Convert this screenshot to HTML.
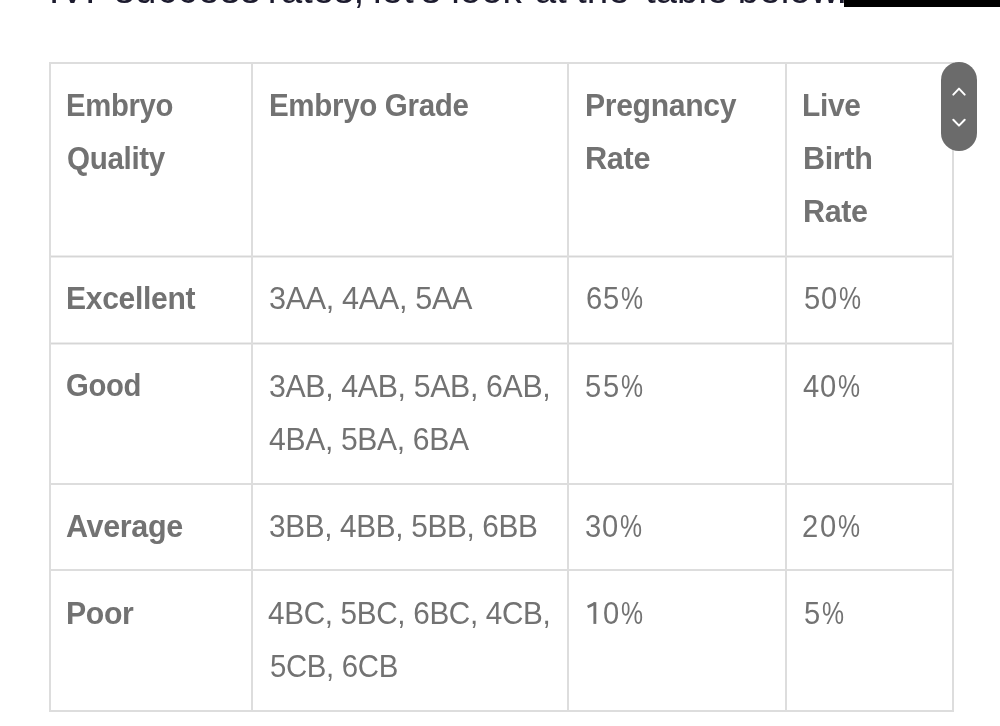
<!DOCTYPE html>
<html><head><meta charset="utf-8">
<style>
html,body{margin:0;padding:0;background:#fff;}
body{width:1000px;height:726px;position:relative;overflow:hidden;filter:blur(0.4px);font-family:"Liberation Sans",sans-serif;}
.h{position:absolute;background:#dddddd;height:2px;left:49px;width:905px;}
.v{position:absolute;background:#dddddd;width:2px;top:62px;height:650px;}
.t{position:absolute;color:#727272;font-size:31px;line-height:40px;white-space:nowrap;transform-origin:0 0;}
.b{font-weight:bold;}
.top{position:absolute;left:50px;top:-30.5px;color:#1c1b2e;font-size:38.6px;line-height:40px;white-space:nowrap;}
.blk{position:absolute;left:844px;top:0;width:156px;height:7px;background:#000;}
.pill{position:absolute;left:941px;top:62px;width:36px;height:89px;border-radius:18px;background:#6b6b6b;}
</style></head><body>
<div class="top"><span style="position:relative;left:-1.3px">IVF</span> <span style="position:relative;left:-6px;letter-spacing:1px">success</span> <span style="position:relative;left:-10px">rates,</span> <span style="position:relative;left:-12px">let's</span> <span style="position:relative;left:-12px">look</span> <span style="position:relative;left:-10px">at</span> <span style="position:relative;left:-11.5px">the</span> <span style="position:relative;left:-7px">table</span> <span style="position:relative;left:-8.5px">below.</span></div>
<div class="blk"></div>
<div class="h" style="top:62px"></div>
<div class="h" style="top:256px;height:1px;background:#d6d6d6;box-shadow:0 1px 0 #ececec,0 -1px 0 #ececec"></div>
<div class="h" style="top:343px;height:1px;background:#d6d6d6;box-shadow:0 1px 0 #ececec,0 -1px 0 #ececec"></div>
<div class="h" style="top:483px"></div>
<div class="h" style="top:569px"></div>
<div class="h" style="top:710px"></div>
<div class="v" style="left:49px"></div>
<div class="v" style="left:251px"></div>
<div class="v" style="left:567px"></div>
<div class="v" style="left:785px"></div>
<div class="v" style="left:952px"></div>
<div class="t b" style="left:66.40px;top:85.55px;letter-spacing:-0.35px;transform:scaleX(0.944)">Embryo</div>
<div class="t b" style="left:67.10px;top:138.95px;letter-spacing:-0.35px;transform:scaleX(0.954)">Quality</div>
<div class="t b" style="left:268.60px;top:85.55px;letter-spacing:-0.35px;transform:scaleX(0.953)">Embryo Grade</div>
<div class="t b" style="left:584.60px;top:85.55px;letter-spacing:-0.35px;transform:scaleX(0.973)">Pregnancy</div>
<div class="t b" style="left:584.60px;top:138.95px;letter-spacing:-0.35px;transform:scaleX(0.990)">Rate</div>
<div class="t b" style="left:802.40px;top:85.55px;letter-spacing:-0.35px;transform:scaleX(0.966)">Live</div>
<div class="t b" style="left:802.60px;top:138.95px;letter-spacing:-0.35px;transform:scaleX(0.985)">Birth</div>
<div class="t b" style="left:802.60px;top:192.25px;letter-spacing:-0.35px;transform:scaleX(0.984)">Rate</div>
<div class="t b" style="left:65.80px;top:279.05px;letter-spacing:-0.35px;transform:scaleX(0.971)">Excellent</div>
<div class="t" style="left:268.90px;top:279.25px;letter-spacing:-0.35px;transform:scaleX(0.987)">3AA, 4AA, 5AA</div>
<div class="t" style="left:585.52px;top:279.25px;transform:scaleX(0.940)">6</div>
<div class="t" style="left:603.43px;top:279.25px;transform:scaleX(0.940)">5</div>
<div class="t" style="left:621.12px;top:279.25px;transform:scaleX(0.800)">%</div>
<div class="t" style="left:803.83px;top:279.25px;transform:scaleX(0.940)">5</div>
<div class="t" style="left:821.46px;top:279.25px;transform:scaleX(0.940)">0</div>
<div class="t" style="left:839.12px;top:279.25px;transform:scaleX(0.800)">%</div>
<div class="t b" style="left:66.00px;top:366.25px;letter-spacing:-0.35px;transform:scaleX(0.945)">Good</div>
<div class="t" style="left:268.60px;top:366.65px;letter-spacing:-0.35px;transform:scaleX(0.977)">3AB, 4AB, 5AB, 6AB,</div>
<div class="t" style="left:268.60px;top:420.05px;letter-spacing:-0.35px;transform:scaleX(0.971)">4BA, 5BA, 6BA</div>
<div class="t" style="left:585.43px;top:366.65px;transform:scaleX(0.940)">5</div>
<div class="t" style="left:603.03px;top:366.65px;transform:scaleX(0.940)">5</div>
<div class="t" style="left:620.72px;top:366.65px;transform:scaleX(0.800)">%</div>
<div class="t" style="left:802.53px;top:366.65px;transform:scaleX(0.940)">4</div>
<div class="t" style="left:819.96px;top:366.65px;transform:scaleX(0.940)">0</div>
<div class="t" style="left:837.62px;top:366.65px;transform:scaleX(0.800)">%</div>
<div class="t b" style="left:65.70px;top:506.85px;letter-spacing:-0.35px;transform:scaleX(0.984)">Average</div>
<div class="t" style="left:268.60px;top:506.85px;letter-spacing:-0.35px;transform:scaleX(0.960)">3BB, 4BB, 5BB, 6BB</div>
<div class="t" style="left:584.89px;top:506.85px;transform:scaleX(0.940)">3</div>
<div class="t" style="left:602.46px;top:506.85px;transform:scaleX(0.940)">0</div>
<div class="t" style="left:620.12px;top:506.85px;transform:scaleX(0.800)">%</div>
<div class="t" style="left:802.03px;top:506.85px;transform:scaleX(0.940)">2</div>
<div class="t" style="left:819.96px;top:506.85px;transform:scaleX(0.940)">0</div>
<div class="t" style="left:837.62px;top:506.85px;transform:scaleX(0.800)">%</div>
<div class="t b" style="left:65.70px;top:593.95px;letter-spacing:-0.35px;transform:scaleX(0.976)">Poor</div>
<div class="t" style="left:268.30px;top:593.85px;letter-spacing:-0.35px;transform:scaleX(0.958)">4BC, 5BC, 6BC, 4CB,</div>
<div class="t" style="left:269.60px;top:646.55px;letter-spacing:-0.35px;transform:scaleX(0.947)">5CB, 6CB</div>
<svg style="position:absolute;left:586.50px;top:602.40px" width="12" height="24" viewBox="0 0 12 24"><path d="M6.4 0.2 H9.3 V21.9 H6.4 Z" fill="#727272"/><path d="M8.3 1.2 L0.6 5.0" stroke="#727272" stroke-width="2.8" fill="none"/></svg>
<div class="t" style="left:603.46px;top:593.85px;transform:scaleX(0.940)">0</div>
<div class="t" style="left:621.12px;top:593.85px;transform:scaleX(0.800)">%</div>
<div class="t" style="left:803.83px;top:593.85px;transform:scaleX(0.940)">5</div>
<div class="t" style="left:821.62px;top:593.85px;transform:scaleX(0.800)">%</div>
<div class="pill">
<svg width="36" height="89" viewBox="0 0 36 89" style="position:absolute;left:0;top:0">
<polyline points="12.3,32.6 18,26.6 23.7,32.6" fill="none" stroke="#fff" stroke-width="2" stroke-linecap="round" stroke-linejoin="round"/>
<polyline points="12.3,57.8 18,63.6 23.7,57.8" fill="none" stroke="#fff" stroke-width="2" stroke-linecap="round" stroke-linejoin="round"/>
</svg>
</div>
</body></html>
